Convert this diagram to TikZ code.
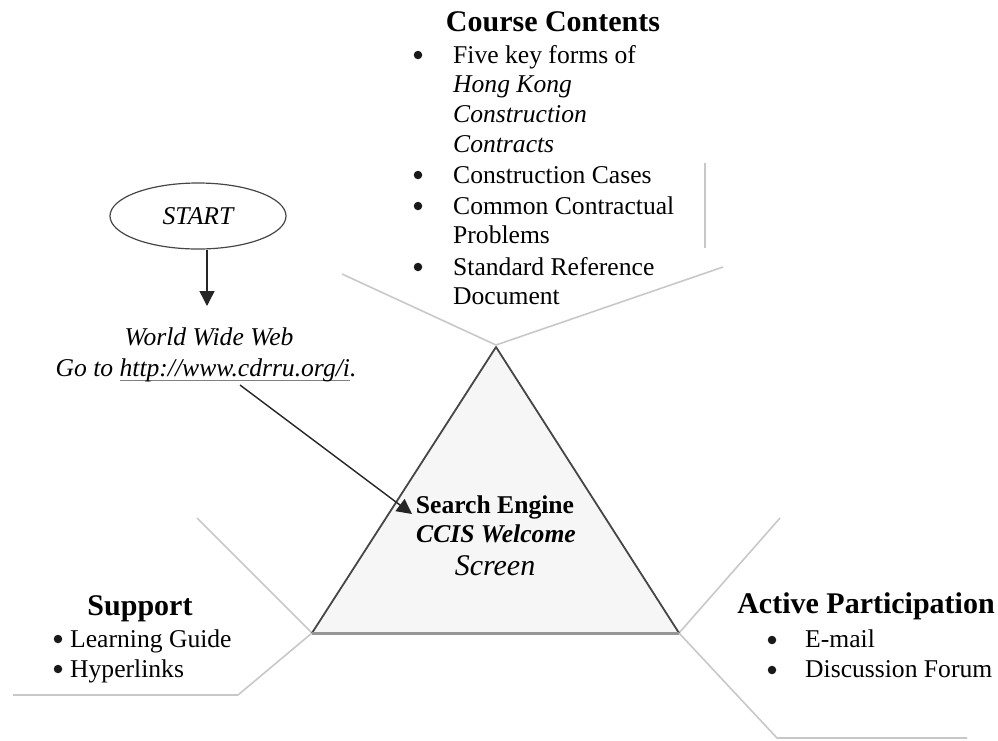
\documentclass[tikz,border=0pt]{standalone}
\usepackage{fontspec}
\setmainfont{Liberation Serif}
\usetikzlibrary{shapes.geometric,arrows.meta}

\definecolor{guidegrey}{RGB}{200,200,200}
\definecolor{edgegrey}{RGB}{70,70,70}
\definecolor{basegrey}{RGB}{150,150,150}
\definecolor{trifill}{RGB}{246,246,246}

\newcommand\bodysize{\fontsize{25.6}{30}\selectfont}
\newcommand\headsize{\fontsize{30}{34}\selectfont\bfseries}
% underline drawn just below the baseline, through the descenders
\newcommand\linkline[1]{\setbox0\hbox{#1}\rlap{\textcolor{gray}{\rule[-5pt]{\wd0}{1.2pt}}}\box0}

\tikzset{
  txt/.style={inner sep=0pt, font=\bodysize, anchor=base west},
  ctxt/.style={inner sep=0pt, font=\bodysize, anchor=base},
  head/.style={inner sep=0pt, font=\headsize, anchor=base},
  bul/.style={circle, fill=black!90, inner sep=0pt, minimum size=8.5pt},
  guide/.style={draw=guidegrey, line width=1.6pt, line join=round},
  link/.style={draw=black!85, line width=1.4pt, -{Triangle[width=15pt,length=15pt]}}
}

\begin{document}
\begin{tikzpicture}[x=1pt,y=-1pt]
\useasboundingbox (0,0) rectangle (998,740);

% ---- light grey guide lines around the triangle
\draw[guide] (342,274) -- (496,345) -- (723,267);
\draw[guide] (705,163) -- (705,248);
\draw[guide] (197,518) -- (312,633) -- (238,695) -- (13,695);
\draw[guide] (780,518) -- (679,633) -- (777,738) -- (967,738);

% ---- central triangle
\fill[trifill] (496,347) -- (312,633) -- (679,633) -- cycle;
\draw[edgegrey, line width=1.8pt, line join=round] (312,633) -- (496,347) -- (679,633);
\draw[basegrey, line width=3pt] (312,633) -- (679,633);

\node[head] (se) at (495,513) {\fontsize{25.6}{30}\selectfont Search Engine};
\node[head] (ccis) at (496,542) {\fontsize{25.6}{30}\selectfont\itshape CCIS Welcome};
\node[ctxt] (scr) at (495,575) {\fontsize{30}{34}\selectfont\itshape Screen};

% ---- course contents
\node[head] (cc) at (553,31) {Course Contents};
\node[bul] (b1) at (418,55) {};
\node[txt] (c1) at (453,63) {Five key forms of};
\node[txt] (c1b) at (453,92) {\itshape Hong Kong};
\node[txt] (c1c) at (453,122) {\itshape Construction};
\node[txt] (c1d) at (453,152) {\itshape Contracts};
\node[bul] (b2) at (418,175) {};
\node[txt] (c2) at (453,183) {Construction Cases};
\node[bul] (b3) at (418,206) {};
\node[txt] (c3) at (453,214) {Common Contractual};
\node[txt] (c3b) at (453,243) {Problems};
\node[bul] (b4) at (418,267) {};
\node[txt] (c4) at (453,275) {Standard Reference};
\node[txt] (c4b) at (453,304) {Document};

% ---- start and web address
\node[ellipse, draw=edgegrey, line width=1.2pt, minimum width=176pt, minimum height=66pt,
      inner sep=0pt, font=\bodysize\itshape] (start) at (198,216) {START};
\node[ctxt, font=\bodysize\itshape] (www) at (209,345) {World Wide Web};
\node[ctxt, font=\bodysize\itshape] (goto) at (206,376) {Go to \linkline{http://www.cdrru.org/i}.};

\coordinate (wtop) at (207,306);
\draw[link] (start.south -| wtop) -- (wtop);

\coordinate (urlfoot) at (240,385);
\coordinate (setip) at (412,514);
\draw[link] (urlfoot) -- (setip);

% ---- support
\node[head] (sup) at (140,615) {Support};
\node[bul] (s1b) at (58,639) {};
\node[txt] (s1) at (70,647) {Learning Guide};
\node[bul] (s2b) at (58,669) {};
\node[txt] (s2) at (70,677) {Hyperlinks};

% ---- active participation
\node[head] (ap) at (866,613) {Active Participation};
\node[bul] (a1b) at (772,640) {};
\node[txt] (a1) at (805,647) {E-mail};
\node[bul] (a2b) at (772,670) {};
\node[txt] (a2) at (805,677) {Discussion Forum};
\end{tikzpicture}
\end{document}
